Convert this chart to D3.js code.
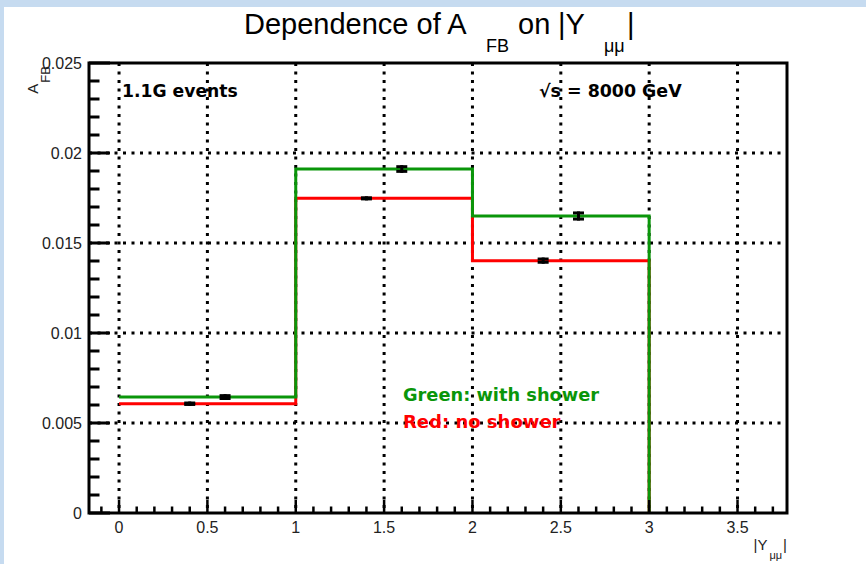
<!DOCTYPE html>
<html><head><meta charset="utf-8">
<script src="https://cdn.jsdelivr.net/npm/d3@7"></script>
<style>
body{margin:0;background:#fff;}
svg{display:block;}
</style></head>
<body><svg id="c" width="866" height="564"></svg>
<script>
// ---- data ----
const binEdges = [0, 1, 2, 3];
const greenValues = [0.00644, 0.01911, 0.0165];
const redValues = [0.00607, 0.01748, 0.01402];
const greenPointX = [0.6, 1.6, 2.6];
const redPointX = [0.4, 1.4, 2.4];
const greenErr = [0.00008, 0.00013, 0.00017];
const redErr = [0.00004, 0.00003, 0.00009];
const xMajorTicks = [0, 0.5, 1, 1.5, 2, 2.5, 3, 3.5];
const xTickLabels = ["0", "0.5", "1", "1.5", "2", "2.5", "3", "3.5"];
const yMajorTicks = [0, 0.005, 0.01, 0.015, 0.02, 0.025];
const yTickLabels = ["0", "0.005", "0.01", "0.015", "0.02", "0.025"];
const xMinorTicks = d3.range(-1, 38).map(i => i / 10);
const yMinorTicks = d3.range(0, 26).map(i => i / 1000);

const svg = d3.select("#c");
const L = 89, R = 787, T = 63, B = 513;
const x = d3.scaleLinear().domain([-0.17, 3.78]).range([L, R]);
const y = d3.scaleLinear().domain([0, 0.025]).range([B, T]);

// light blue window border
svg.append("rect").attr("x",0).attr("y",0).attr("width",866).attr("height",7).attr("fill","#c6dbf0");
svg.append("rect").attr("x",0).attr("y",0).attr("width",4).attr("height",564).attr("fill","#c6dbf0");

const GREEN = "#0a960a", RED = "#ff0000";
const gridDash = "3 5.5";

// grid
const grid = svg.append("g");
grid.selectAll(".vg").data(xMajorTicks).enter().append("line")
  .attr("x1", d => x(d)).attr("x2", d => x(d)).attr("y1", T).attr("y2", B)
  .attr("stroke", "#000").attr("stroke-width", 3).attr("stroke-dasharray", gridDash);
grid.selectAll(".hg").data(yMajorTicks.filter(d => d > 0 && d < 0.025)).enter().append("line")
  .attr("x1", L).attr("x2", R).attr("y1", d => y(d)).attr("y2", d => y(d))
  .attr("stroke", "#000").attr("stroke-width", 3).attr("stroke-dasharray", gridDash);

// histograms
function histPath(vals) {
  const p = d3.path();
  p.moveTo(x(binEdges[0]), y(vals[0]));
  for (let i = 0; i < vals.length; i++) {
    if (i > 0) p.lineTo(x(binEdges[i]), y(vals[i]));
    p.lineTo(x(binEdges[i + 1]), y(vals[i]));
  }
  p.lineTo(x(binEdges[binEdges.length - 1]), y(0));
  return p.toString();
}
svg.append("path").attr("d", histPath(redValues)).attr("fill", "none")
  .attr("stroke", RED).attr("stroke-width", 3);
svg.append("path").attr("d", histPath(greenValues)).attr("fill", "none")
  .attr("stroke", GREEN).attr("stroke-width", 3);

// error markers
function errBars(xs, vals, errs) {
  const g = svg.append("g").attr("stroke", "#000").attr("stroke-width", 3);
  xs.forEach((xv, i) => {
    const cx = x(xv), hi = y(vals[i] + errs[i]), lo = y(vals[i] - errs[i]);
    g.append("line").attr("x1", cx - 5.5).attr("x2", cx + 5.5).attr("y1", hi).attr("y2", hi);
    g.append("line").attr("x1", cx - 5.5).attr("x2", cx + 5.5).attr("y1", lo).attr("y2", lo);
    g.append("line").attr("x1", cx).attr("x2", cx).attr("y1", hi - 1.5).attr("y2", lo + 1.5);
  });
}
errBars(redPointX, redValues, redErr);
errBars(greenPointX, greenValues, greenErr);

// frame
svg.append("rect").attr("x", L).attr("y", T).attr("width", R - L).attr("height", B - T)
  .attr("fill", "none").attr("stroke", "#000").attr("stroke-width", 3);

// y ticks (inside, left)
const yt = svg.append("g").attr("stroke", "#000").attr("stroke-width", 3);
yt.selectAll(".ym").data(yMinorTicks).enter().append("line")
  .attr("x1", L).attr("x2", d => L + (Math.abs(d * 200 - Math.round(d * 200)) < 1e-6 ? 21 : 10.5))
  .attr("y1", d => y(d)).attr("y2", d => y(d));
// x ticks (inside, bottom)
const xt = svg.append("g").attr("stroke", "#000").attr("stroke-width", 2.5);
xt.selectAll(".xm").data(xMinorTicks).enter().append("line")
  .attr("x1", d => x(d)).attr("x2", d => x(d)).attr("y1", B)
  .attr("y2", d => B - (Math.abs(d * 2 - Math.round(d * 2)) < 1e-6 ? 13 : 6.5));

const sans = "'Liberation Sans', Arial, sans-serif";
const bold = "'DejaVu Sans', sans-serif";
// tick labels
svg.selectAll(".xl").data(xMajorTicks).enter().append("text")
  .attr("x", d => x(d)).attr("y", 533).attr("text-anchor", "middle")
  .attr("font-family", sans).attr("font-size", 16).attr("fill", "#222")
  .text((d, i) => xTickLabels[i]);
svg.selectAll(".yl").data(yMajorTicks).enter().append("text")
  .attr("x", 82).attr("y", d => y(d) + 6).attr("text-anchor", "end")
  .attr("font-family", sans).attr("font-size", 16).attr("fill", "#222")
  .text((d, i) => yTickLabels[i]);

// title
const title = svg.append("text").attr("y", 34)
  .attr("font-family", sans).attr("font-size", 29).attr("fill", "#000");
title.append("tspan").attr("x", 244).text("Dependence of A");
title.append("tspan").attr("x", 486).attr("y", 52).attr("font-size", 18).text("FB");
title.append("tspan").attr("x", 518).attr("y", 34).text("on");
title.append("tspan").attr("x", 558).attr("y", 34).text("|Y");
title.append("tspan").attr("x", 604).attr("y", 52).attr("font-size", 18).text("μμ");
title.append("tspan").attr("x", 627).attr("y", 34).text("|");

// axis titles
const xTitle = svg.append("text").attr("x", 787).attr("y", 550).attr("text-anchor", "end")
  .attr("font-family", sans).attr("font-size", 15).attr("fill", "#222");
xTitle.append("tspan").text("|Y");
xTitle.append("tspan").attr("font-size", 11).attr("dx", 2).attr("dy", 9).text("μμ");
xTitle.append("tspan").attr("dy", -9).attr("dx", 1).text("|");

const yTitle = svg.append("text").attr("transform", "translate(38,66) rotate(-90)")
  .attr("text-anchor", "end").attr("font-family", sans).attr("font-size", 15).attr("fill", "#222");
yTitle.append("tspan").text("A");
yTitle.append("tspan").attr("font-size", 13).attr("dx", 1).attr("dy", 12).text("FB");

// annotations
svg.append("text").attr("x", 122).attr("y", 97).attr("font-family", bold).attr("font-weight", "bold")
  .attr("font-size", 17.2).attr("fill", "#000").text("1.1G events");
svg.append("text").attr("x", 539).attr("y", 97).attr("font-family", bold).attr("font-weight", "bold")
  .attr("font-size", 17.4).attr("fill", "#000").text("√s = 8000 GeV");
svg.append("text").attr("x", 403).attr("y", 401).attr("font-family", bold).attr("font-weight", "bold")
  .attr("font-size", 17.8).attr("fill", GREEN).text("Green: with shower");
svg.append("text").attr("x", 403).attr("y", 428).attr("font-family", bold).attr("font-weight", "bold")
  .attr("font-size", 18).attr("fill", RED).text("Red: no shower");
</script></body></html>
